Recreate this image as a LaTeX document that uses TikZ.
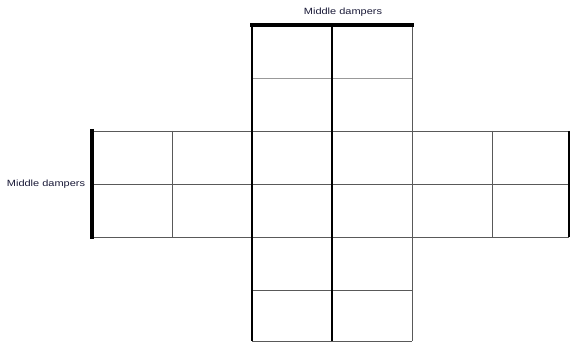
\documentclass[tikz,border=0pt]{standalone}
\usepackage{fontspec}
\setmainfont{Liberation Sans}
\newfontfamily\lblfont[FakeStretch=1.22]{Liberation Sans}
\begin{document}
\begin{tikzpicture}[x=1pt,y=-1pt,
  gridline/.style={draw=black!65,line width=0.9pt},
  lightline/.style={draw=black!40,line width=0.9pt},
  darkline/.style={draw=black,line width=1.1pt},
  damper/.style={draw=black,line width=3.2pt},
  lbl/.style={font=\lblfont\fontsize{9}{10}\selectfont,text={rgb,255:red,25;green,25;blue,55},inner sep=0pt}]
\useasboundingbox (0,0) rectangle (570,342);
% horizontal lines
\draw[lightline] (252,78) -- (412,78);
\draw[gridline] (92,131) -- (569,131);
\draw[gridline] (92,184) -- (569,184);
\draw[gridline] (92,237) -- (569,237);
\draw[gridline] (252,290) -- (412,290);
\draw[gridline] (252,341) -- (412,341);
% vertical lines
\draw[gridline] (172,131) -- (172,237);
\draw[darkline] (252,25) -- (252,341);
\draw[darkline] (332,25) -- (332,341);
\draw[gridline] (412,25) -- (412,341);
\draw[gridline] (492,131) -- (492,237);
\draw[darkline] (569,131) -- (569,237);
% dampers
\draw[damper] (250,25) -- (414,25);
\draw[damper] (92,129) -- (92,239);
% labels
\node[lbl] (toplabel) at (343,12) {Middle dampers};
\node[lbl] (leftlabel) at (46,184) {Middle dampers};
\end{tikzpicture}
\end{document}
